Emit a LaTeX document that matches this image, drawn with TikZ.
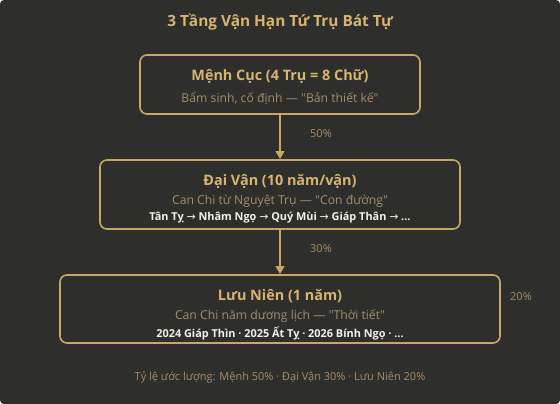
\documentclass[tikz,border=0pt]{standalone}
\usepackage{fontspec}
\setmainfont{Open Sans}
\newfontfamily\kyhieu{DejaVu Sans}
\usetikzlibrary{arrows.meta}

\definecolor{nen}{HTML}{2E2E2C}
\definecolor{vang}{HTML}{C9A765}
\definecolor{chuvang}{HTML}{D8B46E}
\definecolor{chumo}{HTML}{A58E6A}
\definecolor{chutrang}{HTML}{F2F0EA}

\newcommand{\toi}{{\kyhieu\mdseries →}}
\newcommand{\ngoac}{\textquotedbl}

\tikzset{
  tang/.style = {draw = vang, line width = 1.6pt, rounded corners = 7pt, fill = nen},
  tieude/.style = {text = chuvang, font = \fontsize{14.4}{16}\selectfont\bfseries},
  phu/.style = {text = chumo, font = \fontsize{12.2}{14}\selectfont},
  chuoi/.style = {text = chutrang, font = \fontsize{10.9}{12}\selectfont\bfseries},
  tyle/.style = {text = chumo, font = \fontsize{11}{12}\selectfont},
  muiten/.style = {draw = vang, line width = 1.6pt, -{Triangle[length = 8pt, width = 9pt]}}
}

\begin{document}
\begin{tikzpicture}[x = 1pt, y = -1pt]
\fill[nen, rounded corners = 4pt] (0, 0) rectangle (560, 404);
\useasboundingbox (0, 0) rectangle (560, 404);

\node[text = chuvang, font = \fontsize{15.4}{17}\selectfont\bfseries] (tieu) at (280, 22){3 Tầng Vận Hạn Tứ Trụ Bát Tự};

% tang 1
\draw[tang] (140, 55) rectangle (420, 114);
\coordinate (menhDuoi) at (280, 114);
\node[tieude] (menh) at (280, 76){Mệnh Cục (4 Trụ = 8 Chữ)};
\node[phu] (menhPhu) at (280, 98){Bẩm sinh, cố định — \ngoac Bản thiết kế\ngoac};

% tang 2
\draw[tang] (100, 160) rectangle (460, 229);
\coordinate (daiTren) at (280, 159);
\coordinate (daiDuoi) at (280, 229);
\node[tieude] (dai) at (280, 181){Đại Vận (10 năm/vận)};
\node[phu] (daiPhu) at (280, 201){Can Chi từ Nguyệt Trụ — \ngoac Con đường\ngoac};
\node[chuoi] (daiChuoi) at (280, 218){Tân Tỵ \toi{} Nhâm Ngọ \toi{} Quý Mùi \toi{} Giáp Thân \toi{} ...};

% tang 3
\draw[tang] (60, 275) rectangle (500, 343);
\coordinate (luuTren) at (280, 274);
\node[tieude] (luu) at (280, 296){Lưu Niên (1 năm)};
\node[phu] (luuPhu) at (280, 316){Can Chi năm dương lịch — \ngoac Thời tiết\ngoac};
\node[chuoi] (luuChuoi) at (280, 333){2024 Giáp Thìn · 2025 Ất Tỵ · 2026 Bính Ngọ · ...};

% mui ten
\draw[muiten] (menhDuoi) -- (daiTren);
\draw[muiten] (daiDuoi) -- (luuTren);
\node[tyle] (tl50) at (321, 134){50\%};
\node[tyle] (tl30) at (321, 249){30\%};
\node[tyle] (tl20) at (521, 297){20\%};

\node[tyle] (chuthich) at (280, 377){Tỷ lệ ước lượng: Mệnh 50\% · Đại Vận 30\% · Lưu Niên 20\%};
\end{tikzpicture}
\end{document}
